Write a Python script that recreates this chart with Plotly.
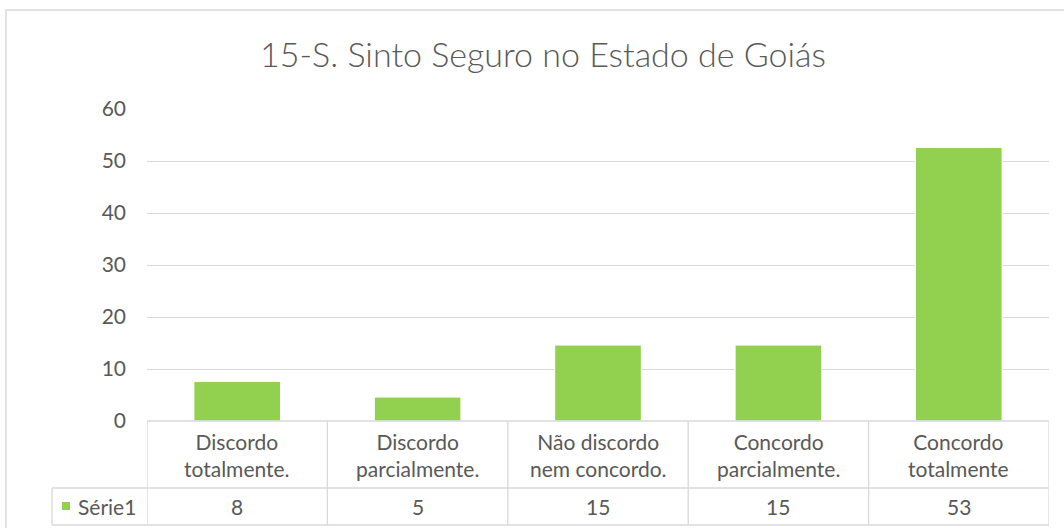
import plotly.graph_objects as go

title = "15-S. Sinto Seguro no Estado de Goiás"
categories = ["Discordo<br>totalmente.", "Discordo<br>parcialmente.", "Não discordo<br>nem concordo.",
              "Concordo<br>parcialmente.", "Concordo<br>totalmente"]
values = [7.6, 4.6, 14.6, 14.6, 52.6]
table_labels = ["8", "5", "15", "15", "53"]
series_name = "Série1"
y_ticks = [0, 10, 20, 30, 40, 50, 60]

W, H = 1064, 528
L, R, T, B = 147, 1049, 109, 421  # plot area in px
GREEN = "#92D050"
GRID = "#d9d9d9"
TXT = "#595959"
FONT = "Lato"
FS = 21

def px(xp):
    return (xp - L) / (R - L)

def py(yp):
    return (B - yp) / (B - T)

fig = go.Figure(go.Bar(x=list(range(len(categories))), y=values,
                       marker=dict(color=GREEN, line=dict(color="white", width=1)),
                       name=series_name, showlegend=False, hoverinfo="skip"))

shapes = []
def line(x0, y0, x1, y1, xref="paper"):
    shapes.append(dict(type="line", xref=xref, yref="paper", x0=x0, y0=y0, x1=x1, y1=y1,
                       line=dict(color=GRID, width=1.3), layer="above"))

# chart border
shapes.append(dict(type="rect", xref="paper", yref="paper", x0=px(6), x1=px(1075), y0=py(10), y1=py(540),
                   line=dict(color=GRID, width=1.5), layer="below"))
# table lines
line(0, py(421), 1, py(421))
line(px(52), py(488), 1, py(488))
line(px(52), py(525), 1, py(525))
line(px(52), py(488), px(52), py(525))
n = len(categories)
for i in range(n + 1):
    line(i - 0.5, py(421), i - 0.5, py(525), xref="x")
# legend key square
shapes.append(dict(type="rect", xref="paper", yref="paper", x0=px(62), x1=px(70), y0=py(502), y1=py(510),
                   fillcolor=GREEN, line=dict(width=0), layer="above"))

annotations = []
for i, (c, t) in enumerate(zip(categories, table_labels)):
    annotations.append(dict(x=i, y=py(455), xref="x", yref="paper", text=c, showarrow=False,
                            font=dict(family=FONT, size=FS, color=TXT), yanchor="middle", align="center"))
    annotations.append(dict(x=i, y=py(506), xref="x", yref="paper", text=t, showarrow=False,
                            font=dict(family=FONT, size=FS, color=TXT), yanchor="middle"))
annotations.append(dict(x=px(76), y=py(506), xref="paper", yref="paper", text=series_name, showarrow=False,
                        xanchor="left", yanchor="middle", font=dict(family=FONT, size=FS, color=TXT)))

fig.update_layout(
    width=W, height=H,
    margin=dict(l=L, r=W - R, t=T, b=H - B),
    paper_bgcolor="white", plot_bgcolor="white",
    title=dict(text=title, x=543 / W, xref="container", y=1 - 55 / H, yanchor="middle", xanchor="center",
               font=dict(family=FONT, size=34, color=TXT, weight=300)),
    bargap=0.52,
    xaxis=dict(range=[-0.5, n - 0.5], showticklabels=False, showgrid=False, zeroline=False, ticks=""),
    yaxis=dict(range=[0, 60], tickvals=y_ticks, showgrid=True, gridcolor=GRID, gridwidth=1.3, zeroline=False,
               tickfont=dict(family=FONT, size=FS, color=TXT), ticklabelstandoff=20, ticks=""),
    shapes=shapes, annotations=annotations,
)

fig.write_html("out.html", config={"displayModeBar": False},
               post_script="document.body.style.margin='0';document.body.style.overflow='hidden';")
